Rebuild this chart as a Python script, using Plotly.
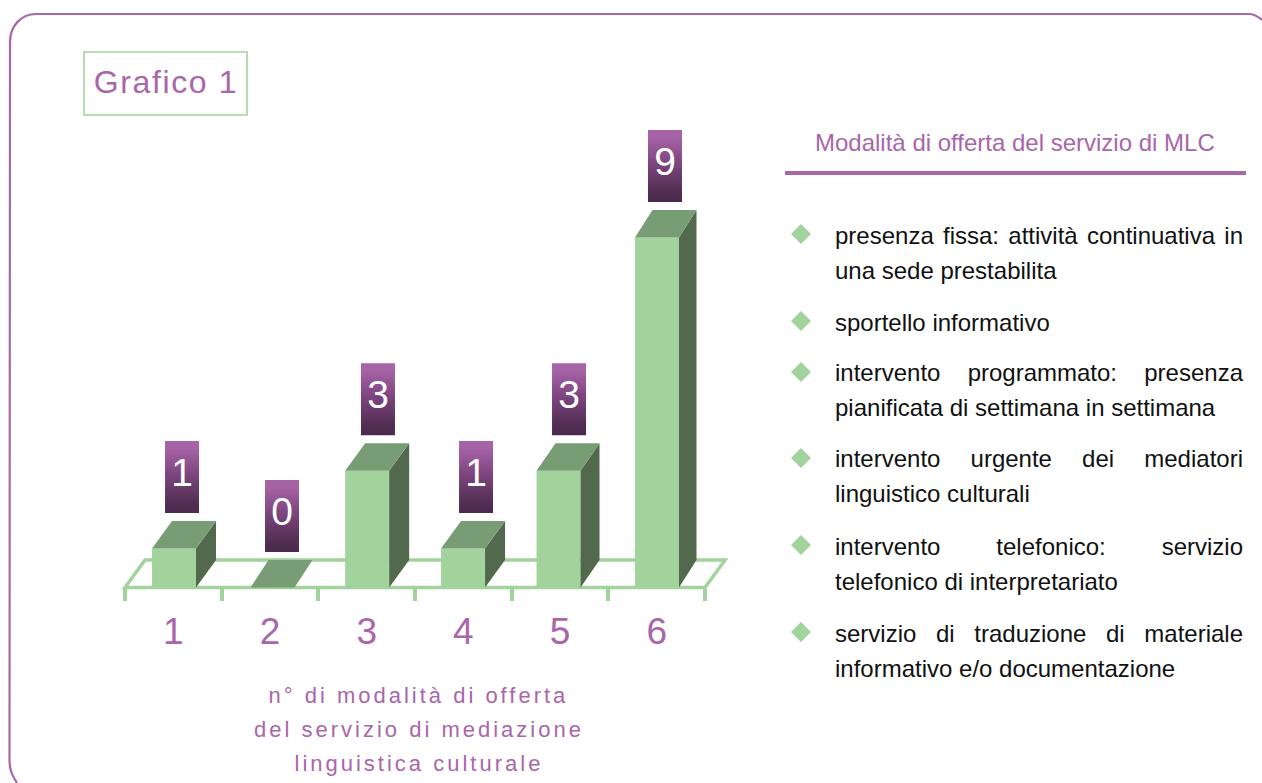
import plotly.graph_objects as go

# ---- data ----
categories = [1, 2, 3, 4, 5, 6]
values = [1, 0, 3, 1, 3, 9]
chart_title = "Grafico 1"
axis_title_lines = ["n° di modalità di offerta", "del servizio di mediazione", "linguistica culturale"]
legend_title = "Modalità di offerta del servizio di MLC"
legend_lines = [
    ["presenza fissa: attività continuativa in", "una sede prestabilita"],
    ["sportello informativo"],
    ["intervento programmato: presenza", "pianificata di settimana in settimana"],
    ["intervento urgente dei mediatori", "linguistico culturali"],
    ["intervento telefonico: servizio", "telefonico di interpretariato"],
    ["servizio di traduzione di materiale", "informativo e/o documentazione"],
]

# ---- style / layout constants ----
W, H = 1262, 783
PURPLE = "#A966AA"
GREEN = "#A3D39C"
TOP = "#789D75"
SIDE = "#53694E"
FONT = "Liberation Sans, Arial, sans-serif"
PX_PER_CAT = 96.67
PX_PER_VAL = 38.9
X_LEFT = 125.0      # pixel of x = 0.5
Y_BASE = 587.5      # pixel of y = 0
DEPTH_X = 20 / PX_PER_CAT
DEPTH_Y = 27.5 / PX_PER_VAL
BAR_W = 44 / PX_PER_CAT
BOX_W = 34 / PX_PER_CAT
BOX_H = 72 / PX_PER_VAL
BOX_GAP = 8 / PX_PER_VAL
BOX_SHIFT = [8.0, 9.5, 10.8, 13.0, 10.5, 8.0]      # px, label box offset from its bar
BAR_SHIFT = [0.7, 2.5, 0.5, -0.3, -1.5, 0.3]       # px, perspective nudge of each bar
BAR_DEPTH = [20, 18, 20, 20, 19, 17.5]             # px, perspective depth of each bar

x_min = 0.5 - X_LEFT / PX_PER_CAT
x_max = 0.5 + (W - X_LEFT) / PX_PER_CAT
y_max = Y_BASE / PX_PER_VAL
y_min = -(H - Y_BASE) / PX_PER_VAL


def px(x):
    return x / W


def py(y):
    return 1 - y / H


fig = go.Figure()

bar_x = [c + s / PX_PER_CAT for c, s in zip(categories, BAR_SHIFT)]

# front faces
fig.add_trace(go.Bar(x=bar_x, y=values, width=BAR_W,
                     marker=dict(color=GREEN, line=dict(width=0)), showlegend=False))

for c, v, bx, shift, dpx in zip(categories, values, bar_x, BOX_SHIFT, BAR_DEPTH):
    l, r = bx - BAR_W / 2, bx + BAR_W / 2
    dx = dpx / PX_PER_CAT
    # side face
    if v > 0:
        fig.add_trace(go.Scatter(
            x=[r, r + dx, r + dx, r, r], y=[0, DEPTH_Y, v + DEPTH_Y, v, 0],
            mode="lines", fill="toself", fillcolor=SIDE, line=dict(width=0), showlegend=False))
    # top face
    fig.add_trace(go.Scatter(
        x=[l, r, r + dx, l + dx, l], y=[v, v, v + DEPTH_Y, v + DEPTH_Y, v],
        mode="lines", fill="toself", fillcolor=TOP, line=dict(width=0), showlegend=False))
    # value label box with gradient
    cx = bx + shift / PX_PER_CAT
    y0 = v + DEPTH_Y + BOX_GAP
    fig.add_trace(go.Scatter(
        x=[cx - BOX_W / 2, cx + BOX_W / 2, cx + BOX_W / 2, cx - BOX_W / 2, cx - BOX_W / 2],
        y=[y0, y0, y0 + BOX_H, y0 + BOX_H, y0],
        mode="lines", fill="toself", line=dict(width=0), showlegend=False,
        fillgradient=dict(type="vertical",
                          colorscale=[[0, "#4A2A4C"], [0.12, "#4F2D50"], [0.55, "#7E4680"], [0.9, "#A663A6"], [1, "#A663A6"]])))
    fig.add_trace(go.Scatter(
        x=[cx], y=[y0 + BOX_H / 2 + 1 / PX_PER_VAL], text=[str(v)], mode="text",
        textposition="middle center",
        textfont=dict(family=FONT, size=39, color="white"), showlegend=False))

# floor frame (below the bars)
shapes = [dict(
    type="path", xref="x", yref="y", layer="below",
    path=f"M {0.5},0 L {6.5},0 L {6.5 + DEPTH_X},{DEPTH_Y} L {0.5 + DEPTH_X},{DEPTH_Y} Z",
    line=dict(color=GREEN, width=3.5), fillcolor="rgba(0,0,0,0)")]

# outer rounded frame
L, T = 10, 14
border = (f"M {px(17)},{py(H)} C {px(12)},{py(775)} {px(9.5)},{py(770)} {px(9.5)},{py(760)} "
          f"L {px(L)},{py(42)} C {px(L)},{py(25)} {px(22)},{py(T)} {px(36)},{py(T)} "
          f"L {px(1248)},{py(T)} C {px(1253)},{py(T)} {px(1258)},{py(16)} {px(1262)},{py(20)}")
shapes.append(dict(type="path", xref="paper", yref="paper", path=border,
                   line=dict(color=PURPLE, width=2.2)))
# title box
shapes.append(dict(type="rect", xref="paper", yref="paper",
                   x0=px(84), x1=px(247), y0=py(115), y1=py(52), line=dict(color=GREEN, width=1.6)))
# rule under legend title
shapes.append(dict(type="rect", xref="paper", yref="paper",
                   x0=px(785), x1=px(1246), y0=py(175), y1=py(171), fillcolor=PURPLE, line=dict(width=0)))

ann = []


def note(text, x, y, size, color, xanchor="left", align="left"):
    ann.append(dict(text=text, xref="paper", yref="paper", x=px(x), y=py(y), xanchor=xanchor,
                    yanchor="middle", align=align, showarrow=False,
                    font=dict(family=FONT, size=size, color=color)))


note(chart_title, 165.5, 82, 32, PURPLE, "center", "center")
note(legend_title, 1015, 142, 24, PURPLE, "center", "center")
for line, y in zip(axis_title_lines, [695, 729, 763]):
    note(line, 419, y, 22, PURPLE, "center", "center")

line_y = [[236, 271], [322], [373, 408], [459, 494], [546, 581], [633, 668]]
bullet_y = [234, 321, 372, 458, 545, 632]
justified = []
for lines, ys, by in zip(legend_lines, line_y, bullet_y):
    for t, y in zip(lines, ys):
        note(t, 833, y, 24, "#111111")
    if len(lines) > 1:
        justified.append(lines[0])
    d = 10
    shapes.append(dict(type="path", xref="paper", yref="paper", line=dict(width=0), fillcolor=GREEN,
                       path=f"M {px(801 - d)},{py(by)} L {px(801)},{py(by - d)} L {px(801 + d)},{py(by)} L {px(801)},{py(by + d)} Z"))

fig.update_layout(
    width=W, height=H, margin=dict(l=0, r=0, t=0, b=0), autosize=False,
    paper_bgcolor="white", plot_bgcolor="white", showlegend=False, barmode="overlay",
    shapes=shapes, annotations=ann,
    xaxis=dict(range=[x_min, x_max], domain=[0, 1], anchor="free", position=py(Y_BASE),
               tickmode="array", tickvals=categories,
               ticktext=[str(c) for c in categories], ticks="outside", ticklen=11, tickwidth=1,
               tickcolor="rgba(0,0,0,0)", showgrid=False, zeroline=False, showline=False,
               tickfont=dict(family=FONT, size=37, color=PURPLE),
               minor=dict(tickmode="array", tickvals=[c - 0.5 for c in categories] + [6.5],
                          ticks="outside", ticklen=12, tickwidth=3.5, tickcolor=GREEN, showgrid=False)),
    yaxis=dict(range=[y_min, y_max], domain=[0, 1], visible=False, showgrid=False, zeroline=False),
)

post = """
document.documentElement.style.overflow='hidden';
document.body.style.margin='0';
var JUST = %s, TARGET = 408;
var SPACED = %s;
document.querySelectorAll('.annotation-text').forEach(function(t){
  var s = t.textContent;
  if (JUST.indexOf(s) >= 0) {
    var n = s.split(' ').length - 1;
    t.style.wordSpacing = ((TARGET - t.getComputedTextLength()) / n) + 'px';
  } else if (SPACED[s] !== undefined) {
    t.style.letterSpacing = SPACED[s] + 'px';
  }
});
""" % (
    repr(justified),
    repr({axis_title_lines[0]: 3.0, axis_title_lines[1]: 3.0, axis_title_lines[2]: 3.0, chart_title: 1.6}),
)
fig.write_html("out.html", post_script=post, config=dict(displayModeBar=False))
